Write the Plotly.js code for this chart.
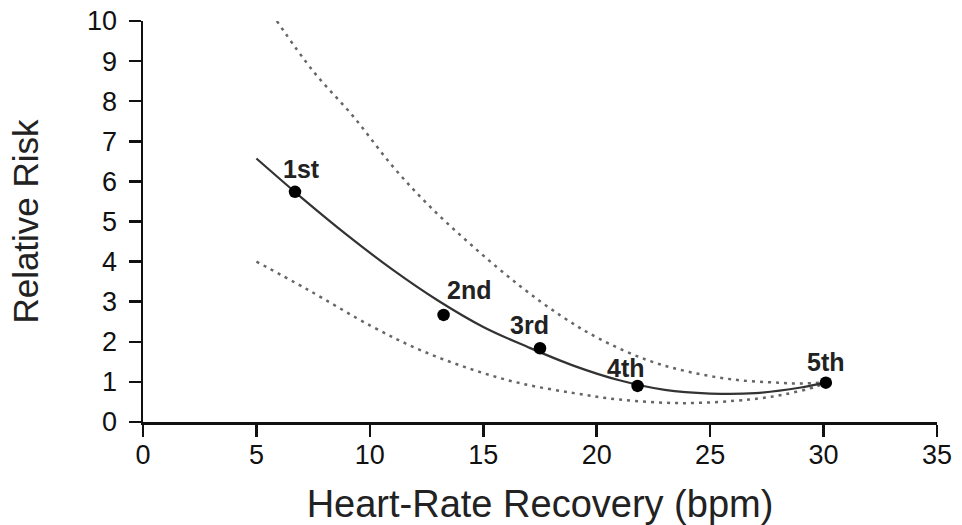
<!DOCTYPE html>
<html>
<head>
<meta charset="utf-8">
<script src="https://cdn.plot.ly/plotly-3.0.1.min.js"></script>
<style>html,body{margin:0;padding:0;background:#fff;}#chart{width:962px;height:525px;}</style>
</head>
<body>
<div id="chart"></div>
<script>
// Quintile points
var quintileLabels = ['1st', '2nd', '3rd', '4th', '5th'];
var quintileHRR = [6.7, 13.25, 17.5, 21.8, 30.1];
var quintileRR = [5.74, 2.67, 1.84, 0.90, 0.98];

// Fitted relative-risk curve
var fitHRR = [5, 7, 9, 11, 13, 15, 17, 19, 21, 23, 25, 27, 29, 30.1];
var fitRR  = [6.57, 5.59, 4.66, 3.80, 3.03, 2.37, 1.86, 1.40, 1.04, 0.80, 0.71, 0.72, 0.86, 0.98];

// Upper confidence bound
var upperHRR = [5.9, 7.5, 9.3, 11.0, 12.6, 14.5, 16.6, 18.5, 20.1, 22.2, 24.0, 26.0, 28.0, 29.0, 30.1];
var upperRR  = [10.0, 8.75, 7.6, 6.38, 5.4, 4.4, 3.4, 2.62, 2.08, 1.55, 1.26, 1.06, 0.98, 0.96, 0.99];

// Lower confidence bound
var lowerHRR = [5.0, 7.2, 10.1, 12.2, 14.4, 16.6, 19.0, 21.0, 23.8, 26.7, 28.2, 29.7, 30.1];
var lowerRR  = [4.0, 3.32, 2.38, 1.80, 1.33, 0.97, 0.72, 0.56, 0.47, 0.56, 0.68, 0.89, 0.99];

var xTitle = 'Heart-Rate Recovery (bpm)';
var yTitle = 'Relative Risk';

// label offsets (style)
var labelXShift = [7, 25, -11, -12, 0];
var labelYShift = [23, 25, 23, 18, 21];

var dotLine = {color: '#666', width: 2.5, dash: '3px,5px', shape: 'spline', smoothing: 1};

var traces = [
  {x: upperHRR, y: upperRR, mode: 'lines', line: dotLine, hoverinfo: 'skip'},
  {x: lowerHRR, y: lowerRR, mode: 'lines', line: dotLine, hoverinfo: 'skip'},
  {x: fitHRR, y: fitRR, mode: 'lines', line: {color: '#333', width: 2.2, shape: 'spline', smoothing: 1}},
  {x: quintileHRR, y: quintileRR, mode: 'markers', cliponaxis: false,
   marker: {color: '#000', size: 12.5}}
];

var annotations = quintileLabels.map(function (t, i) {
  return {x: quintileHRR[i], y: quintileRR[i], xref: 'x', yref: 'y', text: '<b>' + t + '</b>',
          showarrow: false, xshift: labelXShift[i], yshift: labelYShift[i],
          font: {family: 'Liberation Sans, Arial, sans-serif', size: 25, color: '#222'}};
});

var axisCommon = {
  showline: true, linecolor: '#111', linewidth: 2.5, mirror: false,
  ticks: 'outside', ticklen: 12, tickwidth: 2.5, tickcolor: '#111',
  showgrid: false, zeroline: false, fixedrange: true,
  tickfont: {family: 'Liberation Sans, Arial, sans-serif', size: 27, color: '#111'}
};

var layout = {
  width: 962, height: 525,
  margin: {l: 143, r: 25, t: 21, b: 103},
  showlegend: false,
  paper_bgcolor: '#fff', plot_bgcolor: '#fff',
  font: {family: 'Liberation Sans, Arial, sans-serif', color: '#222'},
  xaxis: Object.assign({}, axisCommon, {
    range: [0, 35], dtick: 5, tick0: 0, ticklabelstandoff: -5,
    title: {text: xTitle, standoff: 22, font: {size: 38, color: '#222'}}
  }),
  yaxis: Object.assign({}, axisCommon, {
    range: [0, 10], dtick: 1, tick0: 0, ticklabelstandoff: 6,
    title: {text: yTitle, standoff: 38, font: {size: 35, color: '#222'}}
  }),
  annotations: annotations
};

Plotly.newPlot('chart', traces, layout, {displayModeBar: false, staticPlot: true});
</script>
</body>
</html>
